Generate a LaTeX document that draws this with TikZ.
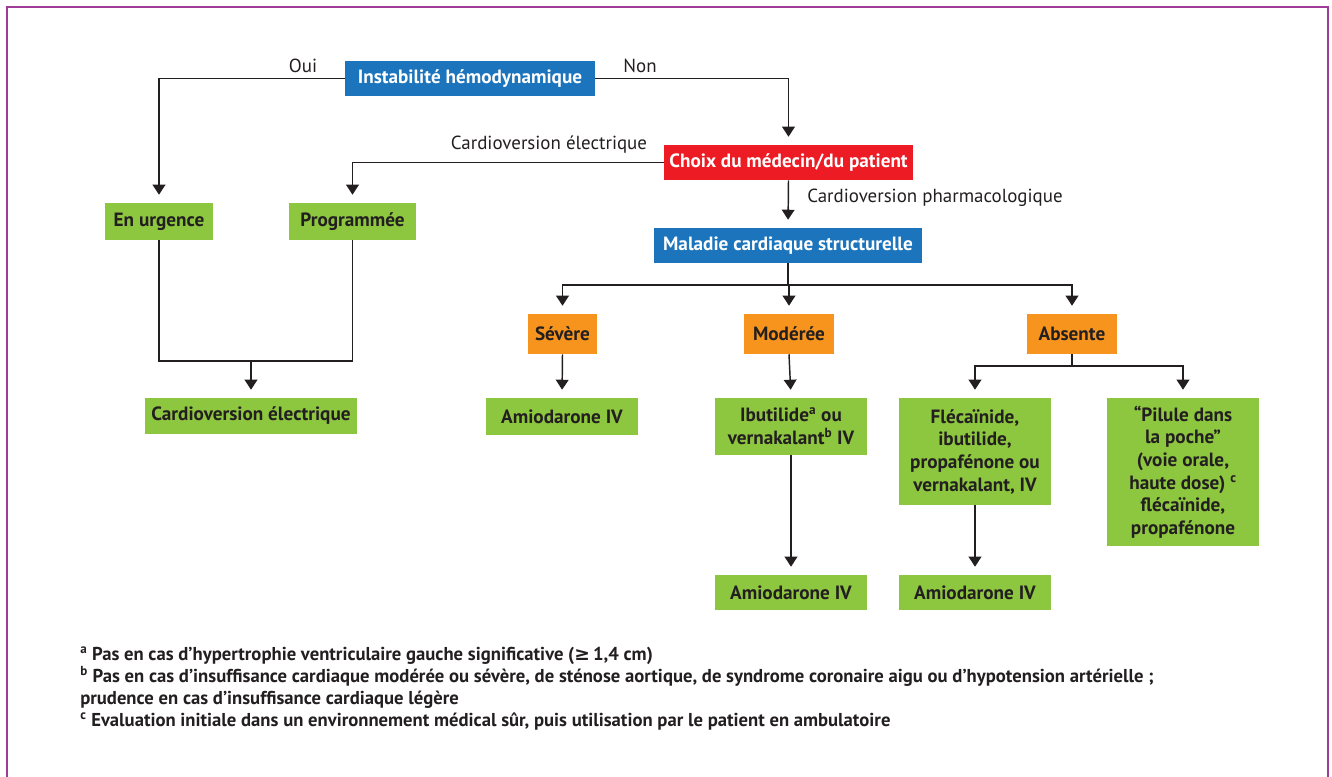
\documentclass[tikz,border=0pt]{standalone}
\usepackage{fontspec}
\setmainfont{PT Sans}
\newfontfamily\symfont{DejaVu Sans}
\usetikzlibrary{arrows.meta}

\definecolor{boxblue}{RGB}{28,117,188}
\definecolor{boxred}{RGB}{237,28,36}
\definecolor{boxgreen}{RGB}{141,198,63}
\definecolor{boxorange}{RGB}{247,148,29}
\definecolor{framepurple}{RGB}{158,60,152}
\definecolor{ink}{RGB}{35,31,32}

\tikzset{
  box/.style={inner sep=0pt, align=center, text=ink,
    font=\bfseries\fontsize{14.4}{17}\selectfont},
  bluebox/.style={box, fill=boxblue, text=white},
  redbox/.style={box, fill=boxred, text=white},
  greenbox/.style={box, fill=boxgreen},
  orangebox/.style={box, fill=boxorange},
  link/.style={line width=1.1pt, draw=ink},
  arr/.style={link, -{Triangle[width=9.5pt, length=7.5pt]}, shorten >=6pt},
  lbl/.style={inner sep=0pt, text=ink, font=\fontsize{14.2}{16}\selectfont},
}

\begin{document}
\begin{tikzpicture}[x=0.75pt, y=-0.75pt]
    \useasboundingbox (0,0) rectangle (1332,777);
    \draw[framepurple, line width=1.6pt] (7,790) -- (7,7) -- (1328,7) -- (1328,790);

    % top of the tree
    \node[bluebox, minimum width=187.5pt, minimum height=26.25pt] (instab) at (470,78.5) {Instabilité hémodynamique};
    \node[redbox, minimum width=186.75pt, minimum height=26.25pt] (choix) at (788.5,162.5) {Choix du médecin/du patient};
    \node[bluebox, minimum width=201pt, minimum height=26.25pt] (maladie) at (788,245.5) {Maladie cardiaque structurelle};

    % electrical branch
    \node[greenbox, minimum width=81pt, minimum height=27.75pt] (urgence) at (159,221.5) {En urgence};
    \node[greenbox, minimum width=95.25pt, minimum height=27.75pt] (program) at (352.5,221.5) {Programmée};
    \node[greenbox, minimum width=159pt, minimum height=27pt] (cardio) at (251,416) {Cardioversion électrique};

    % structural disease
    \node[orangebox, minimum width=51.75pt, minimum height=30pt] (severe) at (562.5,334) {Sévère};
    \node[orangebox, minimum width=67.5pt, minimum height=30pt] (modere) at (789,334) {Modérée};
    \node[orangebox, minimum width=67.5pt, minimum height=30pt] (absente) at (1072,334) {Absente};

    \node[greenbox, minimum width=114pt, minimum height=27.75pt] (amio1) at (562,416.5) {Amiodarone IV};
    \node[greenbox, minimum width=114pt, minimum height=42.75pt] (ibut) at (791,426.5) {Ibutilide\textsuperscript{a} ou\\vernakalant\textsuperscript{b} IV};
    \node[greenbox, minimum width=114pt, minimum height=26.25pt] (amio2) at (791,592.5) {Amiodarone IV};
    \node[greenbox, minimum width=114pt, minimum height=80.25pt] (fleca) at (975,451.5) {Flécaïnide,\\ibutilide,\\propafénone ou\\vernakalant, IV};
    \node[greenbox, minimum width=114pt, minimum height=111pt] (pilule) at (1183,472) {“Pilule dans\\la poche”\\(voie orale,\\haute dose)~\textsuperscript{c}\\flécaïnide,\\propafénone};
    \node[greenbox, minimum width=114pt, minimum height=26.25pt] (amio3) at (975,592.5) {Amiodarone IV};

    % labels
    \node[lbl] (oui) at (303,66) {Oui};
    \node[lbl] (non) at (640,66) {Non};
    \node[lbl] (elec) at (549,145) {Cardioversion électrique};
    \node[lbl, anchor=west] (pharma) at (807,198) {Cardioversion pharmacologique};

    % connectors
    \draw[arr] (instab.west) -| (urgence.north);
    \draw[arr] (instab.east) -| (choix.north);
    \draw[arr] (choix.west) -| (program.north);
    \draw[arr] (choix.south) -- (maladie.north);

    \coordinate (join) at (251,361);
    \draw[link] (urgence.south) |- (join) -| (program.south);
    \draw[arr] (join) -- (cardio.north);

    \coordinate (split) at (788,285);
    \draw[link] (maladie.south) -- (split);
    \draw[arr] (split) -| (severe.north);
    \draw[arr] (split) -| (absente.north);
    \draw[arr] (modere.north |- split) -- (modere.north);
    \draw[arr] (severe.south) -- (amio1.north);
    \draw[arr] (modere.south) -- (ibut.north);
    \draw[arr] (ibut.south) -- (amio2.north);

    \coordinate (fork) at (1072,366);
    \draw[link] (absente.south) -- (fork);
    \draw[arr] (fork) -| (fleca.north);
    \draw[arr] (fork) -| (pilule.north);
    \draw[arr] (fleca.south) -- (amio3.north);

    % footnotes
    \node[inner sep=0pt, anchor=north west, align=left, text=ink,
      font=\bfseries\fontsize{14}{16.5}\selectfont] (notes) at (80,647)
      {\textsuperscript{a} Pas en cas d’hypertrophie ventriculaire gauche significative ({\symfont ≥}\,1,4 cm)\\
       \textsuperscript{b} Pas en cas d’insuffisance cardiaque modérée ou sévère, de sténose aortique, de syndrome coronaire aigu ou d’hypotension artérielle ;\\
       prudence en cas d’insuffisance cardiaque légère\\
       \textsuperscript{c} Evaluation initiale dans un environnement médical sûr, puis utilisation par le patient en ambulatoire};
\end{tikzpicture}
\end{document}
